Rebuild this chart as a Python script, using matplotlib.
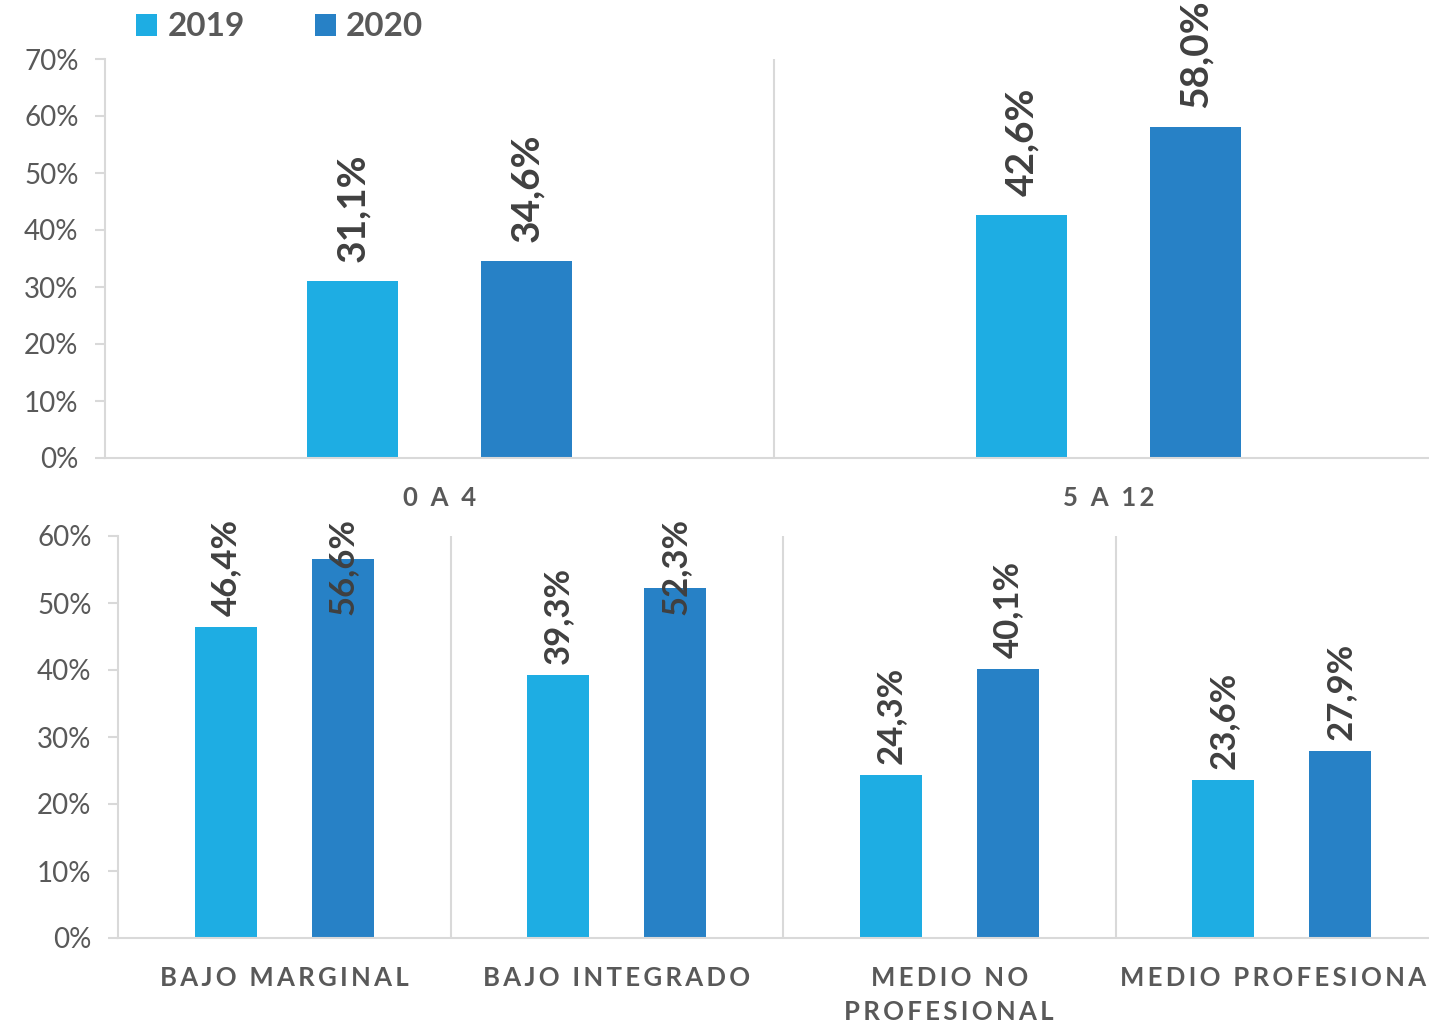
import matplotlib
matplotlib.use("Agg")
import matplotlib.pyplot as plt
from matplotlib.patches import Patch
import numpy as np

# ---- data ----
top_categories = ["0 A 4", "5 A 12"]
top_2019 = [31.1, 42.6]
top_2020 = [34.6, 58.0]

bottom_categories = ["BAJO MARGINAL", "BAJO INTEGRADO", "MEDIO NO\nPROFESIONAL", "MEDIO PROFESIONAL"]
bottom_2019 = [46.4, 39.3, 24.3, 23.6]
bottom_2020 = [56.6, 52.3, 40.1, 27.9]

series_names = ["2019", "2020"]
top_yticks = [0, 10, 20, 30, 40, 50, 60, 70]
bottom_yticks = [0, 10, 20, 30, 40, 50, 60]

# ---- style ----
C19 = "#1EADE3"
C20 = "#2781C6"
GRID = "#D9D9D9"
TXT = "#595959"
LBL = "#404040"
FAM = ["Lato", "DejaVu Sans"]
plt.rcParams["font.family"] = FAM

W, H = 1429, 1024
fig = plt.figure(figsize=(W / 100, H / 100), dpi=100)


def spaced(s):
    return "\n".join("\u2009".join(ch for ch in line) for line in s.split("\n"))


def fmt(v):
    return f"{v:.1f}".replace(".", ",") + "%"


def setup(ax, cats, yticks, ymax, label_pad):
    n = len(cats)
    ax.set_xlim(-0.5, n - 0.5)
    ax.set_ylim(0, ymax)
    for s in ["top", "right"]:
        ax.spines[s].set_visible(False)
    for s in ["left", "bottom"]:
        ax.spines[s].set_color(GRID)
        ax.spines[s].set_linewidth(1.5)
    ax.set_yticks(yticks)
    ax.set_yticklabels([f"{t}%" for t in yticks])
    ax.tick_params(axis="y", colors=GRID, length=7, width=1.5, pad=12,
                   labelcolor=TXT, labelsize=20)
    ax.set_xticks(np.arange(n))
    ax.set_xticklabels([spaced(c) for c in cats], fontsize=18.5, fontweight="bold",
                       color=TXT, linespacing=1.5)
    ax.tick_params(axis="x", length=0, pad=label_pad)
    for b in np.arange(n - 1) + 0.5:
        ax.axvline(b, color=GRID, lw=1.5, zorder=0)


# ---- top axes ----
ax1 = fig.add_axes([105 / W, (H - 458) / H, 1338 / W, 399 / H])
setup(ax1, top_categories, top_yticks, 70, 20)
x1 = np.arange(len(top_categories))
off1, w1 = 0.13, 0.136
ax1.bar(x1 - off1, top_2019, w1, color=C19, zorder=2)
ax1.bar(x1 + off1, top_2020, w1, color=C20, zorder=2)
gap1 = 19 / 399 * 70
for xs, vals in ((x1 - off1, top_2019), (x1 + off1, top_2020)):
    for xi, v in zip(xs, vals):
        ax1.text(xi, v + gap1, fmt(v), rotation=90, ha="center", va="bottom",
                 fontsize=28, fontweight="bold", color=LBL)

# ---- bottom axes ----
ax2 = fig.add_axes([118 / W, (H - 938) / H, 1330 / W, 402 / H])
setup(ax2, bottom_categories, bottom_yticks, 60, 20)
x2 = np.arange(len(bottom_categories))
off2, w2 = 0.176, 0.186
ax2.bar(x2 - off2, bottom_2019, w2, color=C19, zorder=2)
ax2.bar(x2 + off2, bottom_2020, w2, color=C20, zorder=2)
gap2 = 11 / 402 * 60
label_len2 = 92 / 402 * 60
limit2 = 60 + 13 / 402 * 60
for xs, vals in ((x2 - off2, bottom_2019), (x2 + off2, bottom_2020)):
    for xi, v in zip(xs, vals):
        yb = min(v + gap2, limit2 - label_len2)
        ax2.text(xi, yb, fmt(v), rotation=90, ha="center", va="bottom",
                 fontsize=25, fontweight="bold", color=LBL, zorder=3)

# ---- legend ----
handles = [Patch(facecolor=C19, edgecolor="none"), Patch(facecolor=C20, edgecolor="none")]
leg = fig.legend(handles, series_names, loc="center left",
                 bbox_to_anchor=(136 / W, (H - 27) / H), ncol=2, frameon=False,
                 prop={"family": FAM, "weight": "bold", "size": 24},
                 handlelength=0.64, handleheight=0.64, handletextpad=0.3,
                 columnspacing=2.1, borderaxespad=0, borderpad=0)
for t in leg.get_texts():
    t.set_color(TXT)

fig.savefig("out.png", dpi=100)
